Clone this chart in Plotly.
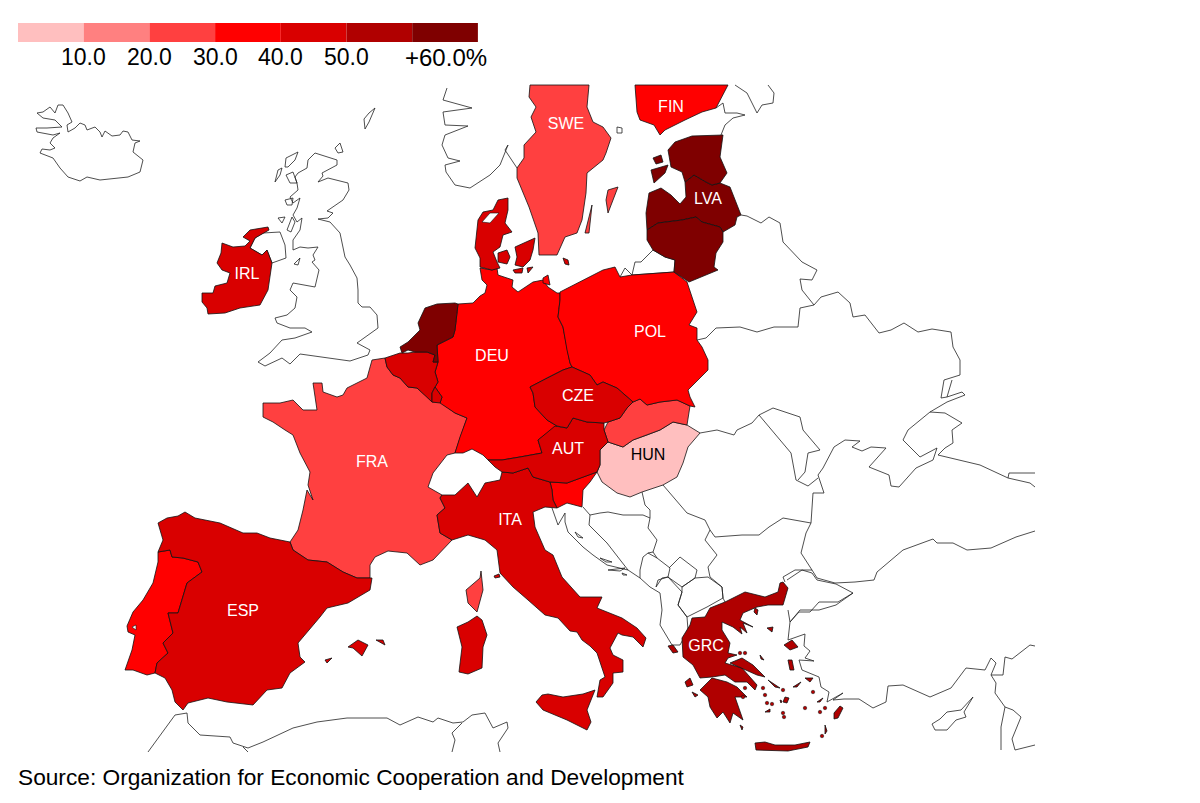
import bisect
import plotly.graph_objects as go

BIN_EDGES = [10, 20, 30, 40, 50, 60]
BIN_COLORS = ["#ffbfbf", "#ff8080", "#ff4040", "#ff0000", "#d90000", "#b00000", "#7f0000"]
LEGEND_LABELS = ["10.0", "20.0", "30.0", "40.0", "50.0", "+60.0%"]
SOURCE = "Source: Organization for Economic Cooperation and Development"

ISO = ["HUN", "SVK", "SWE", "FRA", "FIN", "DEU", "POL", "PRT", "SVN", "ESP", "ITA", "IRL",
       "AUT", "CZE", "BEL", "LUX", "DNK", "GRC", "NLD", "LVA", "LTU", "EST"]
VALUES = [7, 25, 26, 27, 36, 35, 34, 37, 38, 45, 44, 46, 43, 42, 47, 45, 44, 56, 64, 66, 65, 68]

LABELS = ["SWE", "FIN", "LVA", "IRL", "POL", "DEU", "CZE", "AUT", "HUN", "FRA", "ITA", "ESP", "GRC"]
LABEL_X = [566, 671, 708, 247, 650, 492, 578, 568, 648, 372, 510, 243, 706]
LABEL_Y = [125, 108, 200, 275, 333, 357, 397, 450, 456, 463, 521, 612, 647]

HUN = [[(700,433),(687,425),(673,422),(660,430),(647,435),(633,440),(623,447),(608,442),(600,450),(600,465),
        (597,472),(602,482),(617,493),(630,497),(642,492),(663,485),(677,477),(683,463),(688,447)]]
SVK = [[(633,402),(640,399),(647,405),(660,402),(677,400),(690,406),(687,425),(673,422),(660,430),(647,435),
        (633,440),(623,447),(608,442),(604,430),(608,422),(620,418),(627,408)]]
SWE = [[(530,85),(589,85),(587,107),(593,122),(603,127),(611,138),(606,153),(603,160),(587,173),(586,193),
        (582,220),(577,233),(565,237),(557,255),(539,255),(538,233),(529,207),(517,178),(517,168),(524,158),
        (524,145),(536,132),(531,117),(536,107),(529,97)],
       [(606,200),(608,190),(618,187),(608,213)],
       [(585,233),(592,205),(589,233)]]
FRA = [[(385,358),(372,360),(367,378),(347,388),(343,395),(337,397),(323,392),(322,383),(313,383),(317,410),
        (303,410),(293,400),(280,403),(263,403),(263,417),(273,422),(285,430),(293,435),(300,453),(310,472),
        (308,485),(313,500),(307,490),(303,510),(298,530),(290,542),(293,550),(308,560),(327,562),(343,572),
        (357,578),(370,578),(370,565),(375,557),(388,551),(407,553),(420,565),(433,560),(452,540),(440,533),
        (437,515),(445,508),(440,498),(442,495),(428,487),(433,473),(447,455),(455,453),(467,418),(455,413),
        (440,402),(432,402),(425,395),(417,388),(408,387),(400,378),(393,375),(387,367)],
       [(481,571),(483,590),(477,612),(468,603),(466,590),(480,578)]]
FIN = [[(635,85),(728,85),(716,108),(702,112),(685,120),(665,130),(660,135),(654,125),(640,120),(637,112)]]
DEU = [[(458,304),(473,303),(480,296),(485,293),(487,285),(482,280),(480,268),(492,270),(497,268),(498,275),
        (513,280),(512,287),(518,292),(533,282),(543,280),(548,287),(557,293),(560,293),(560,300),(558,317),
        (563,327),(567,350),(570,363),(572,367),(563,370),(547,378),(530,387),(533,393),(535,407),(547,420),
        (557,426),(538,440),(542,453),(520,457),(502,460),(488,460),(483,455),(472,449),(463,453),(455,453),
        (460,437),(467,418),(455,413),(440,403),(442,397),(435,387),(438,382),(435,372),(438,362),(437,345),
        (453,337),(455,330),(456,320)],
       [(543,278),(548,275),(550,285),(543,283)]]
POL = [[(560,292),(587,278),(603,270),(615,267),(620,277),(632,275),(674,272),(687,282),(697,312),(689,325),
        (697,328),(697,340),(702,347),(708,360),(708,370),(688,390),(690,397),(695,407),(690,406),(677,400),
        (660,402),(647,405),(640,399),(633,402),(617,388),(603,382),(597,385),(590,375),(572,367),(570,363),
        (567,350),(563,327),(558,317),(560,300)]]
PRT = [[(158,552),(170,550),(172,557),(183,558),(198,562),(202,572),(187,583),(178,613),(168,613),(173,633),
        (163,643),(168,653),(157,663),(155,673),(147,675),(133,670),(125,670),(132,650),(135,635),(128,632),
        (127,626),(133,612),(143,600),(153,583),(158,562)]]
SVN = [[(550,482),(567,483),(583,477),(597,472),(590,482),(583,490),(582,507),(567,503),(557,508),(553,500),(552,490)]]
ESP = [[(158,523),(167,518),(178,516),(185,512),(195,518),(220,523),(243,533),(257,533),(270,538),(290,542),
        (293,550),(308,560),(327,562),(343,572),(357,578),(372,578),(370,590),(348,603),(327,608),(320,617),
        (298,643),(300,657),(305,662),(290,673),(282,688),(267,690),(253,705),(227,702),(208,698),(188,703),
        (183,710),(175,702),(172,690),(165,678),(155,673),(157,663),(168,653),(163,643),(173,633),(168,613),
        (178,613),(187,583),(202,572),(198,562),(183,558),(172,557),(170,550),(158,552),(163,540),(160,530)],
       [(348,647),(358,640),(368,645),(362,656),(353,648)],
       [(376,640),(383,640),(385,645)],
       [(325,660),(332,658),(327,663)]]
ITA = [[(440,498),(442,495),(455,495),(468,483),(477,497),(485,483),(500,480),(502,472),(513,473),(528,468),
        (533,477),(550,482),(552,490),(553,500),(557,508),(545,507),(533,512),(535,527),(545,550),(553,555),
        (562,577),(580,597),(602,597),(597,608),(622,618),(637,628),(646,638),(643,647),(633,637),(622,635),
        (618,633),(610,648),(613,655),(623,660),(623,672),(613,673),(613,683),(603,697),(597,697),(600,680),
        (605,677),(597,653),(590,646),(582,640),(577,632),(570,631),(558,618),(545,615),(528,600),(513,587),
        (500,573),(497,550),(485,540),(468,535),(452,540),(440,533),(437,515),(445,508)],
       [(536,702),(542,695),(548,694),(563,697),(583,694),(595,690),(587,710),(591,722),(587,730),(567,720),(543,710)],
       [(477,616),(482,620),(487,635),(483,647),(482,668),(468,674),(459,672),(462,647),(457,627),(468,622)],
       [(494,576),(499,574),(500,577),(495,578)]]
IRL = [[(268,227),(260,228),(250,230),(243,237),(250,241),(245,246),(233,247),(222,243),(221,253),(217,263),
        (222,270),(230,273),(227,283),(215,286),(213,293),(202,293),(202,302),(207,308),(208,314),(225,313),
        (240,308),(260,305),(268,290),(272,263),(267,250),(262,255),(250,248),(255,238),(263,233),(269,230)]]
AUT = [[(488,460),(502,460),(520,457),(542,453),(538,440),(555,426),(567,428),(573,418),(587,422),(604,423),
        (604,430),(608,442),(600,450),(600,465),(597,472),(583,477),(567,483),(550,482),(533,477),(528,468),
        (513,473),(502,472),(495,467)]]
CZE = [[(530,387),(547,378),(563,370),(572,367),(590,375),(597,385),(603,382),(617,388),(633,402),(627,408),
        (620,418),(608,422),(604,423),(587,422),(573,418),(567,428),(557,426),(547,420),(535,407),(533,393)]]
BEL = [[(385,358),(400,353),(408,353),(415,352),(427,352),(435,355),(433,362),(438,362),(435,372),(438,382),
        (435,387),(432,393),(432,402),(425,395),(417,388),(408,387),(400,378),(393,375),(387,367)]]
LUX = [[(435,387),(442,397),(440,403),(432,402),(432,393)]]
DNK = [[(508,198),(498,200),(493,210),(483,212),(478,220),(477,230),(475,248),(480,258),(480,267),(492,270),
        (500,268),(497,262),(493,252),(500,247),(503,235),(512,232),(505,223),(508,210)],
       [(498,253),(507,250),(510,257),(507,264),(498,262)],
       [(515,247),(527,242),(535,238),(533,250),(530,260),(523,267),(515,265),(517,257)],
       [(513,270),(523,268),(522,273),(515,273)],
       [(527,268),(533,267),(528,273)],
       [(563,258),(568,260),(569,265),(565,264)]]
GRC = [[(783,582),(788,588),(783,605),(768,605),(757,607),(743,613),(740,620),(753,627),(743,623),(747,633),(740,627),
        (742,634),(733,627),(722,622),(722,630),(730,643),(728,653),(737,655),(728,658),(725,663),(742,668),(757,685),
        (755,690),(747,682),(735,682),(725,675),(712,677),(700,678),(693,665),(683,657),(682,638),(690,625),(692,618),
        (705,617),(710,608),(725,602),(745,592),(765,597),(778,592),(780,583)],
       [(700,690),(712,678),(727,682),(737,687),(747,697),(735,697),(743,720),(733,713),(730,723),(723,712),(717,718),
        (710,707),(708,697)],
       [(730,663),(742,658),(753,665),(765,677),(757,675),(745,670)],
       [(755,743),(765,742),(775,745),(795,745),(810,742),(808,747),(788,751),(768,750),(756,750)],
       [(840,706),(843,708),(838,718),(834,719),(834,713)],
       [(784,645),(792,640),(798,647),(790,650)],
       [(788,660),(792,660),(794,670),(790,670)],
       [(805,678),(813,678),(810,682)],
       [(668,646),(673,645),(678,652),(673,653)],
       [(685,682),(690,678),(693,685),(687,687)],
       [(692,692),(698,695),(695,697)],
       [(755,608),(758,610),(757,615),(754,612)],
       [(767,628),(773,627),(772,632)],
       [(785,697),(789,698),(787,703),(783,702)],
       [(780,700),(782,701),(781,703)],
       [(740,725),(743,727),(742,730)],
       [(825,725),(827,731),(825,734)],
       [(768,680),(780,688),(775,687)],
       [(817,702),(823,698),(820,702)],
       [(793,687),(801,682),(797,687)],
       [(760,655),(764,660),(761,659)],
       [(765,712),(770,709),(770,712)]]
GRC_ISLET_X = [763, 765, 767, 772, 784, 805, 813, 825, 822, 783, 745, 740, 745, 743, 820, 783]
GRC_ISLET_Y = [688, 695, 703, 704, 717, 708, 692, 708, 736, 690, 653, 653, 688, 697, 712, 713]
NLD = [[(458,304),(456,320),(455,330),(453,337),(437,345),(438,362),(433,362),(435,355),(427,352),(415,352),
        (408,350),(402,353),(400,347),(408,342),(412,338),(420,330),(418,323),(425,308),(437,304),(455,303)]]
LVA = [[(685,182),(694,175),(706,182),(712,185),(720,183),(730,187),(741,215),(737,217),(735,225),(723,232),
        (720,227),(702,222),(696,217),(682,220),(658,223),(647,230),(646,213),(649,193),(661,188),(671,195),
        (680,204),(686,197)]]
LTU = [[(647,230),(658,223),(682,220),(696,217),(702,222),(720,227),(723,232),(723,242),(716,253),(714,267),
        (718,270),(702,277),(689,282),(674,272),(675,260),(665,257),(653,250),(647,240)]]
EST = [[(723,135),(692,136),(675,142),(668,150),(671,167),(682,172),(685,182),(694,175),(706,182),(712,185),
        (720,183),(727,173),(720,157)],
       [(651,170),(668,165),(665,173),(654,183)],
       [(653,158),(661,155),(663,162),(656,164)]]
SHAPES = [HUN, SVK, SWE, FRA, FIN, DEU, POL, PRT, SVN, ESP, ITA, IRL, AUT, CZE, BEL, LUX, DNK, GRC, NLD, LVA, LTU, EST]

# inlets cut out of the filled countries
LIMFJORD = [(482,222),(490,213),(499,213),(490,223)]
LISBON = [(132,627),(136,625),(136,630)]
WATER = [LIMFJORD, LISBON]

# countries with no value: outline only
ICELAND = [(37,113),(43,112),(50,107),(55,113),(58,105),(63,105),(68,113),(72,122),(67,125),(68,132),(75,128),(80,123),
           (85,125),(87,130),(95,127),(100,132),(102,137),(105,131),(112,136),(120,135),(123,131),(128,132),(132,140),
           (140,141),(135,143),(133,152),(143,160),(140,172),(128,177),(117,178),(100,180),(87,177),(80,181),(68,177),
           (60,168),(53,158),(40,153),(42,149),(50,150),(55,148),(50,143),(53,138),(60,133),(53,135),(37,132),(36,128),
           (47,128),(62,127),(55,120),(43,118),(37,113)]
GB = [(315,153),(337,160),(337,165),(322,173),(323,176),(318,182),(328,178),(348,183),(349,190),(343,200),(327,211),
      (333,213),(328,218),(318,219),(330,222),(340,233),(345,257),(350,265),(357,278),(358,290),(358,303),(362,307),
      (370,307),(377,315),(378,328),(368,335),(357,343),(370,350),(368,355),(350,361),(330,358),(300,354),(290,364),
      (282,358),(265,366),(258,362),(270,353),(282,340),(295,338),(312,332),(305,328),(290,328),(277,323),(275,318),
      (287,315),(295,308),(297,297),(290,290),(293,283),(303,285),(315,287),(319,270),(312,262),(315,260),(313,255),
      (318,247),(308,248),(300,247),(293,250),(293,240),(300,230),(302,218),(297,222),(293,215),(297,208),(300,198),
      (293,203),(290,197),(298,190),(297,183),(295,177),(298,173),(307,168),(308,160),(315,153)]
NIRELAND = [(263,233),(280,232),(285,245),(286,258),(272,263),(267,250),(262,255),(250,248),(255,238),(263,233)]
LEWIS = [(285,167),(286,158),(298,152),(295,160),(288,167),(285,167)]
UIST = [(275,182),(278,170),(282,168),(280,175),(275,182)]
SKYE = [(286,175),(293,172),(297,183),(290,183),(286,175)]
MULL = [(285,200),(293,198),(292,205),(287,205),(285,200)]
ISLAY = [(278,218),(285,217),(282,223),(278,218)]
KINTYRE = [(292,217),(287,230),(291,232),(295,222),(292,217)]
ANGLESEY = [(294,264),(300,258),(298,265),(294,264)]
ORKNEY = [(335,148),(340,143),(343,152),(338,153),(335,148)]
SHETLAND = [(365,129),(364,119),(369,113),(375,108),(372,115),(369,122),(365,129)]
NORWAY = [(447,88),(443,100),(472,108),(443,112),(445,125),(468,126),(445,135),(442,145),(448,158),(460,161),(445,165),
          (446,172),(455,185),(470,188),(490,175),(500,165),(508,145),(505,150),(517,168)]
ALAND = [(617,127),(622,128),(622,133),(617,133),(617,127)]
RUS_NORTH = [(735,85),(747,93),(757,113),(762,105),(773,103),(774,93),(768,85)]
RUS_GULF = [(716,108),(723,103),(725,113),(737,113),(745,115),(733,118),(725,125),(721,135)]
KALININGRAD = [(620,277),(625,268),(632,275),(635,262),(641,262),(653,250),(665,257),(675,260),(674,272),(632,275)]
BLR_NORTH = [(741,215),(747,216),(761,223),(769,217),(780,223),(783,242),(802,262),(817,270),(812,280),(800,279),(802,290),(814,305)]
RUS_UKR = [(814,305),(821,297),(838,292),(850,303),(853,317),(865,315),(879,333),(891,330),(904,323),(918,332),(932,329),
           (951,332),(953,347),(960,360),(960,375),(944,380),(941,398),(947,397),(952,380)]
BLR_UKR = [(814,305),(800,308),(798,327),(774,327),(757,332),(740,327),(716,328),(706,338),(697,340)]
AZOV = [(947,397),(962,392),(965,395),(947,402),(930,412),(945,413),(962,423),(952,430),(953,443),(945,448),(938,455),
        (960,460),(980,465),(1008,478),(1030,483),(1035,487)]
GEORGIA = [(1008,478),(1009,473),(1035,473)]
CRIMEA = [(886,448),(869,467),(889,475),(891,486),(899,487),(916,468),(933,460),(937,448),(920,457),(903,440),(908,430),
          (930,412)]
BLACK_SEA = [(886,448),(871,447),(862,451),(852,447),(860,441),(845,440),(834,447),(823,468),(818,475),(824,493),(813,493),
             (811,523),(806,533),(801,553),(812,570),(817,578),(835,583),(855,582),(874,580),(877,572),(903,550),(933,539),
             (937,543),(953,543),(967,550),(991,548),(1016,537),(1035,531)]
ROM_UKR = [(700,433),(717,430),(734,435),(737,430),(752,423),(759,415),(773,408),(788,413),(800,417),(803,430),(812,440),
           (820,450),(808,453),(805,472),(798,480)]
MOLDOVA = [(759,415),(778,437),(791,453),(796,480),(808,486),(818,478)]
ROM_BGR = [(811,523),(783,518),(769,527),(759,535),(742,535),(715,537),(710,530),(705,520),(687,513),(668,490),(663,485)]
BGR_SRB = [(710,530),(705,540),(717,555),(708,567),(710,577),(722,587),(723,598),(725,602)]
BGR_TUR = [(812,570),(795,570),(783,577),(785,582)]
ADRIATIC = [(552,508),(558,525),(565,513),(565,522),(568,532),(583,547),(593,555),(607,565),(628,570),(640,578),(650,587),
            (660,593),(662,610),(660,625),(672,645)]
CRO_BIH = [(583,507),(590,515),(600,513),(608,512),(623,515),(643,515),(650,518),(648,528),(657,540),(653,552),(648,553),
           (643,557),(640,570),(640,578)]
CRO_BIH_S = [(590,515),(589,525),(607,543),(620,560),(628,570)]
CRO_SRB = [(642,492),(645,505),(650,510),(650,518)]
MONTENEGRO = [(648,553),(657,558),(670,568),(668,577),(658,580),(656,587)]
KOSOVO = [(669,568),(680,557),(697,570),(695,578),(682,587),(673,580),(668,577)]
MKD = [(682,592),(682,587),(695,578),(708,577),(722,587),(723,598),(707,607),(687,617),(678,605),(682,592)]
ALBANIA = [(656,587),(662,578),(668,577),(678,587),(682,592),(678,605),(687,617),(688,630),(680,645),(672,645)]
SRB_MNE = [(657,558),(653,552)]
KRK = [(575,532),(583,538),(578,537),(575,532)]
HVAR = [(600,558),(612,562),(606,562),(600,558)]
KORCULA = [(608,570),(625,568),(620,571),(608,570)]
MLJET = [(622,573),(627,575),(623,575),(622,573)]
TURKEY_N = [(787,580),(802,570),(812,573),(817,580),(836,584),(853,593),(838,602),(819,602),(810,612),(799,612),(790,622),(788,610)]
TURKEY_S = [(790,622),(788,640),(805,634),(804,646),(810,651),(805,658),(814,661),(799,660),(802,670),(819,677),(821,687),
            (829,692),(827,702),(843,693),(833,700),(844,699),(859,699),(873,708),(886,702),(888,686),(903,685),(930,697),
            (951,688),(966,668),(985,670),(991,658),(996,663),(991,675),(996,683),(995,693),(1005,707),(1001,727),(1001,750)]
MARMARA = [(790,622),(800,610),(819,610),(836,605),(853,593)]
SYRIA = [(991,675),(1003,675),(1005,657),(1012,659),(1030,645),(1035,646)]
LEBANON = [(1005,707),(1013,710),(1021,717),(1012,739),(1015,750),(1035,745)]
CYPRUS = [(932,724),(940,719),(947,712),(961,710),(973,697),(964,712),(966,717),(956,720),(947,730),(935,730),(932,724)]
MOROCCO = [(148,752),(175,715),(187,713),(188,723),(200,735),(230,737),(233,743),(248,748),(263,742),(283,733),(293,728),
           (317,722),(347,718),(387,718),(400,725),(418,717),(433,722),(438,718),(453,723),(463,722),(472,715),(485,713),
           (493,728),(507,722),(508,728),(498,743),(500,752)]
ALG_MOR = [(243,747),(248,752)]
ALG_TUN = [(462,723),(452,733),(455,740),(452,752)]
LAND_LINES = [ICELAND, GB, NIRELAND, LEWIS, UIST, SKYE, MULL, ISLAY, KINTYRE, ANGLESEY, ORKNEY, SHETLAND, NORWAY, ALAND,
              RUS_NORTH, RUS_GULF, KALININGRAD, BLR_NORTH, RUS_UKR, BLR_UKR, AZOV, GEORGIA, CRIMEA, BLACK_SEA, ROM_UKR,
              MOLDOVA, ROM_BGR, BGR_SRB, BGR_TUR, ADRIATIC, CRO_BIH, CRO_BIH_S, CRO_SRB, MONTENEGRO, KOSOVO, MKD, ALBANIA,
              SRB_MNE, KRK, HVAR, KORCULA, MLJET, TURKEY_N, TURKEY_S, MARMARA, SYRIA, LEBANON, CYPRUS, MOROCCO, ALG_MOR,
              ALG_TUN]


def bin_color(value):
    return BIN_COLORS[bisect.bisect_right(BIN_EDGES, value)]


fig = go.Figure()

for line in LAND_LINES:
    fig.add_trace(go.Scatter(x=[p[0] for p in line], y=[p[1] for p in line], mode="lines",
                             line=dict(color="#222222", width=0.8), hoverinfo="skip"))

for iso, value, rings in zip(ISO, VALUES, SHAPES):
    for ring in rings:
        closed = ring + ring[:1]
        fig.add_trace(go.Scatter(x=[p[0] for p in closed], y=[p[1] for p in closed], mode="lines",
                                 fill="toself", fillcolor=bin_color(value),
                                 line=dict(color="#111111", width=0.8), name=iso, hoverinfo="name"))

fig.add_trace(go.Scatter(x=GRC_ISLET_X, y=GRC_ISLET_Y, mode="markers", hoverinfo="skip",
                         marker=dict(size=3.5, color=bin_color(VALUES[ISO.index("GRC")]),
                                     line=dict(color="#111111", width=0.5))))

for ring in WATER:
    closed = ring + ring[:1]
    fig.add_trace(go.Scatter(x=[p[0] for p in closed], y=[p[1] for p in closed], mode="lines",
                             fill="toself", fillcolor="#ffffff",
                             line=dict(color="#111111", width=0.6), hoverinfo="skip"))

label_colors = ["#000000" if iso == "HUN" else "#ffffff" for iso in LABELS]
fig.add_trace(go.Scatter(x=LABEL_X, y=LABEL_Y, mode="text", text=LABELS,
                         textfont=dict(family="Liberation Sans", size=16, color=label_colors),
                         hoverinfo="skip"))

# legend strip along the top
legend_left, legend_step = 18, 65.7
for i, color in enumerate(BIN_COLORS):
    fig.add_shape(type="rect", x0=legend_left + i * legend_step, x1=legend_left + (i + 1) * legend_step,
                  y0=23, y1=42, fillcolor=color, line_width=0)
for i, label in enumerate(LEGEND_LABELS):
    is_last = label == LEGEND_LABELS[-1]
    fig.add_annotation(x=489 if is_last else legend_left + (i + 1) * legend_step, y=57, text=label, showarrow=False,
                       xanchor="right" if is_last else "center", yanchor="middle",
                       font=dict(family="Liberation Sans", size=24 if is_last else 23, color="#000000"))

fig.add_annotation(x=16, y=777, text=SOURCE, showarrow=False, xanchor="left", yanchor="middle",
                   font=dict(family="Liberation Sans", size=22.7, color="#000000"))

fig.update_xaxes(range=[0, 1200], visible=False, fixedrange=True)
fig.update_yaxes(range=[803, 0], visible=False, fixedrange=True)
fig.update_layout(width=1200, height=803, margin=dict(l=0, r=0, t=0, b=0), showlegend=False,
                  paper_bgcolor="#ffffff", plot_bgcolor="#ffffff")

fig.write_html("out.html", config={"displayModeBar": False}, post_script="document.body.style.margin='0';")
